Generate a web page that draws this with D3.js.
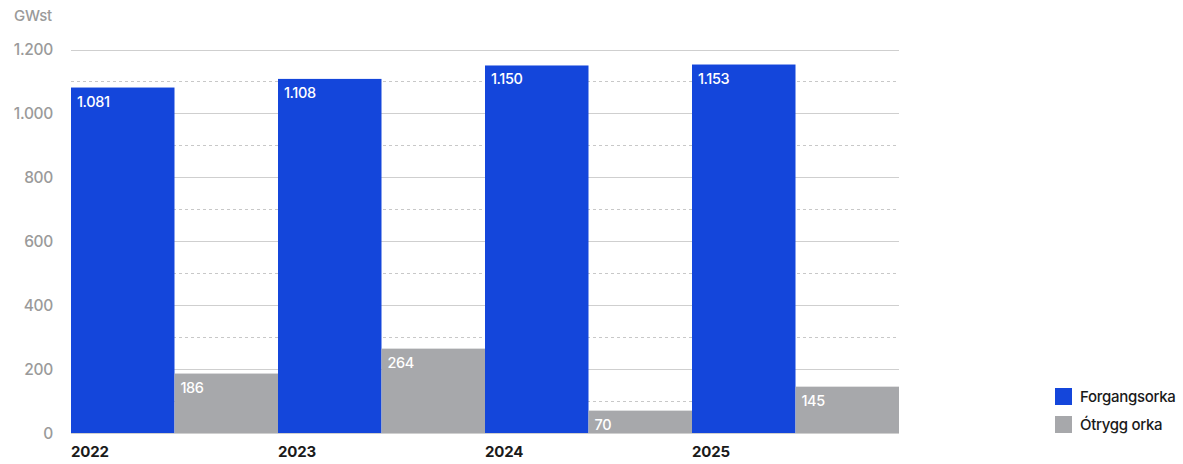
<!DOCTYPE html>
<html><head><meta charset="utf-8">
<script src="https://cdn.jsdelivr.net/npm/d3@7"></script>
<style>body{margin:0;background:#fff;font-family:Inter,"Noto Sans",sans-serif;}</style>
</head><body><svg id="c" width="1183" height="464"></svg>
<script>
const years = ["2022","2023","2024","2025"];
const seriesNames = ["Forgangsorka","Ótrygg orka"];
const forgangsorka = [1081,1108,1150,1153];
const otrygg = [186,264,70,145];
const yTicks = [0,200,400,600,800,1000,1200];
const minorTicks = [100,300,500,700,900,1100];
const colors = ["#1446db","#a7a8ab"];
const unit = "GWst";

const fmt = v => d3.format(",")(v).replace(/,/g,".");
const svg = d3.select("#c");
const L=71,R=899,T=49,B=433;
const x = d3.scaleBand().domain(years).range([L,R]).padding(0);
const xs = d3.scaleBand().domain(seriesNames).range([0,x.bandwidth()]).padding(0);
const y = d3.scaleLinear().domain([0,1200]).range([B,T+0.5]);

const g = svg.append("g");
g.selectAll(".minor").data(minorTicks).join("line")
 .attr("x1",L).attr("x2",R).attr("y1",d=>Math.round(y(d))+0.5).attr("y2",d=>Math.round(y(d))+0.5)
 .attr("stroke","#c8c8c8").attr("stroke-dasharray","3,3");
g.selectAll(".major").data(yTicks).join("line")
 .attr("x1",L).attr("x2",R).attr("y1",d=>Math.round(y(d))+0.5).attr("y2",d=>Math.round(y(d))+0.5)
 .attr("stroke","#cfcfcf").attr("stroke-width",1.2);
g.selectAll(".yl").data(yTicks).join("text")
 .attr("x",53).attr("y",d=>y(d)+5.5).attr("text-anchor","end")
 .attr("fill","#9a9a9a").attr("font-size",15.5).attr("font-weight",500).attr("letter-spacing","-0.3").text(fmt);
svg.append("text").attr("x",14).attr("y",21).attr("fill","#9a9a9a").attr("font-size",15).attr("font-weight",500).attr("letter-spacing","-0.3").text(unit);

const data = years.map((yr,i)=>({yr, vals:[forgangsorka[i],otrygg[i]]}));
const grp = svg.selectAll(".grp").data(data).join("g").attr("transform",d=>`translate(${x(d.yr)},0)`);
grp.selectAll("rect").data(d=>d.vals.map((v,k)=>({v,k}))).join("rect")
 .attr("x",d=>xs(seriesNames[d.k])).attr("width",xs.bandwidth())
 .attr("y",d=>y(d.v)).attr("height",d=>B-y(d.v)).attr("fill",d=>colors[d.k]);
grp.selectAll(".vl").data(d=>d.vals.map((v,k)=>({v,k}))).join("text")
 .attr("x",d=>xs(seriesNames[d.k])+6).attr("y",d=>y(d.v)+19)
 .attr("fill","#fff").attr("font-size",14.5).attr("font-weight",500).attr("letter-spacing","-0.4").text(d=>fmt(d.v));
svg.selectAll(".xl").data(years).join("text")
 .attr("x",d=>x(d)).attr("y",457).attr("fill","#1a1a1a").attr("font-size",15).attr("font-weight",700).attr("letter-spacing","-0.2").text(d=>d);

const lg = svg.append("g").attr("transform","translate(1055,388)");
seriesNames.forEach((n,i)=>{
 lg.append("rect").attr("x",0).attr("y",i*28).attr("width",17).attr("height",17).attr("fill",colors[i]);
 lg.append("text").attr("x",25).attr("y",i*28+14).attr("fill","#1a1a1a").attr("font-size",15).attr("font-weight",500).attr("letter-spacing","-0.3").text(n);
});
</script></body></html>
